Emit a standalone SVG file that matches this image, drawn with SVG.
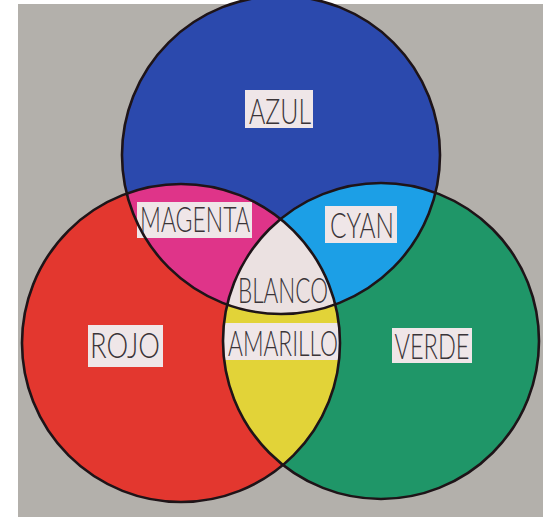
<svg xmlns="http://www.w3.org/2000/svg" width="543" height="517" viewBox="0 0 543 517">
  <style>
    .lbl { font-family: Lato, "Liberation Sans", sans-serif; font-weight: 300; font-size: 35px; fill: #3a3438; text-anchor: middle; }
    .box { fill: #efe6e8; }
    .ol { fill: none; stroke: #1e1418; stroke-width: 2.6; }
  </style>
  <defs>
    <clipPath id="cBlue"><circle cx="281" cy="155" r="159"/></clipPath>
    <clipPath id="cRed"><circle cx="181" cy="343" r="159"/></clipPath>
    <clipPath id="cGreen"><circle cx="381" cy="341" r="158"/></clipPath>
  </defs>
  <rect x="0" y="0" width="543" height="517" fill="#ffffff"/>
  <rect x="18" y="4" width="525" height="513" fill="#b3b0ab"/>

  <g id="azul">
    <circle cx="281" cy="155" r="159" fill="#2b49ad"/>
  </g>
  <g id="rojo">
    <circle cx="181" cy="343" r="159" fill="#e3372f"/>
  </g>
  <g id="verde">
    <circle cx="381" cy="341" r="158" fill="#1f9668"/>
  </g>
  <g id="magenta">
    <circle cx="181" cy="343" r="159" fill="#df3489" clip-path="url(#cBlue)"/>
  </g>
  <g id="cyan">
    <circle cx="381" cy="341" r="158" fill="#1c9fe6" clip-path="url(#cBlue)"/>
  </g>
  <g id="amarillo">
    <circle cx="381" cy="341" r="158" fill="#e2d338" clip-path="url(#cRed)"/>
  </g>
  <g id="blanco">
    <g clip-path="url(#cGreen)">
      <circle cx="281" cy="155" r="159" fill="#ebe1e1" clip-path="url(#cRed)"/>
    </g>
  </g>

  <g id="label-boxes">
    <rect class="box" x="245" y="90" width="68" height="38"/>
    <rect class="box" x="137" y="202" width="115" height="36"/>
    <rect class="box" x="325" y="206" width="72" height="37"/>
    <rect class="box" x="88" y="325" width="75" height="42"/>
    <g clip-path="url(#cRed)"><rect class="box" x="222" y="323" width="120" height="37" clip-path="url(#cGreen)"/></g>
    <rect class="box" x="392" y="328" width="80" height="35"/>
  </g>

  <g id="connectors">
    <circle class="ol" cx="281" cy="155" r="159"/>
    <circle class="ol" cx="181" cy="343" r="159"/>
    <circle class="ol" cx="381" cy="341" r="158"/>
  </g>

  <g id="labels">
    <text class="lbl" x="280" y="124" textLength="62" lengthAdjust="spacingAndGlyphs">AZUL</text>
    <text class="lbl" x="195" y="232" textLength="110" lengthAdjust="spacingAndGlyphs">MAGENTA</text>
    <text class="lbl" x="362" y="238" textLength="64" lengthAdjust="spacingAndGlyphs">CYAN</text>
    <text class="lbl" x="283" y="303" textLength="90" lengthAdjust="spacingAndGlyphs">BLANCO</text>
    <text class="lbl" x="125" y="358" textLength="70" lengthAdjust="spacingAndGlyphs">ROJO</text>
    <text class="lbl" x="283" y="356" textLength="110" lengthAdjust="spacingAndGlyphs">AMARILLO</text>
    <text class="lbl" x="432" y="359" textLength="75" lengthAdjust="spacingAndGlyphs">VERDE</text>
  </g>
</svg>
